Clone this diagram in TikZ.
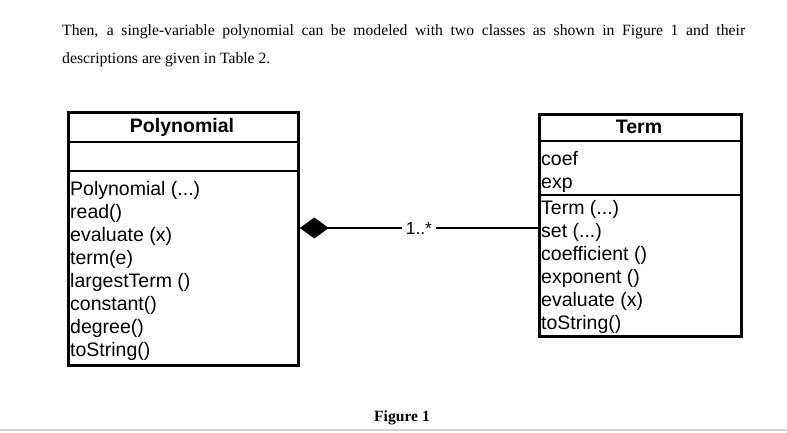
\documentclass[tikz,border=0pt]{standalone}
\usepackage{fontspec}
\setmainfont{Liberation Serif}
\newfontfamily\arial{Liberation Sans}
\usetikzlibrary{arrows.meta}
\begin{document}
\begin{tikzpicture}[x=1pt,y=-1pt,
  classbox/.style={draw=black, line width=2.8pt, inner sep=0pt, anchor=north west},
  sepline/.style={draw=black, line width=2.8pt},
  classtitle/.style={font=\arial\bfseries\fontsize{19.5}{22}\selectfont, anchor=base, inner sep=0pt},
  member/.style={font=\arial\fontsize{19.5}{22}\selectfont, anchor=base west, inner sep=0pt},
  para/.style={font=\fontsize{15.7}{28}\selectfont, anchor=base west, inner sep=0pt},
  caption/.style={font=\bfseries\fontsize{15.6}{18}\selectfont, anchor=base, inner sep=0pt},
  assoc/.style={draw=black, line width=1.4pt},
  multlabel/.style={font=\arial\fontsize{17.5}{20}\selectfont, fill=white, inner sep=4pt}
]
\useasboundingbox (0,0) rectangle (787,433);

% paragraph
\node[para] (line1) at (62,36) {\makebox[683pt][s]{Then, a single-variable polynomial can be modeled with two classes as shown in Figure 1 and their}};
\node[para] (line2) at (62,64) {descriptions are given in Table 2.};

% Polynomial class
\node[classbox, minimum width=230pt, minimum height=253pt] (poly) at (67,111) {};
\draw[sepline] (poly.north west |- 0,142) -- (poly.north east |- 0,142);
\draw[sepline] (poly.north west |- 0,171) -- (poly.north east |- 0,171);
\node[classtitle] (ptitle) at (182,132) {Polynomial};
\node[member] (p1) at (70,195) {Polynomial (...)};
\node[member] (p2) at (70,218) {read()};
\node[member] (p3) at (70,241) {evaluate (x)};
\node[member] (p4) at (70,264) {term(e)};
\node[member] (p5) at (70,287) {largestTerm ()};
\node[member] (p6) at (70,310) {constant()};
\node[member] (p7) at (70,333) {degree()};
\node[member] (p8) at (70,356) {toString()};

% Term class
\node[classbox, minimum width=202pt, minimum height=222pt] (term) at (538,113) {};
\draw[sepline] (term.north west |- 0,141) -- (term.north east |- 0,141);
\draw[sepline] (term.north west |- 0,195) -- (term.north east |- 0,195);
\node[classtitle] (ttitle) at (639,134) {Term};
\node[member] (a1) at (541,165) {coef};
\node[member] (a2) at (541,188) {exp};
\node[member] (t1) at (541,214) {Term (...)};
\node[member] (t2) at (541,237) {set (...)};
\node[member] (t3) at (541,260) {coefficient ()};
\node[member] (t4) at (541,283) {exponent ()};
\node[member] (t5) at (541,306) {evaluate (x)};
\node[member] (t6) at (541,329) {toString()};

% composition
\coordinate (cy) at (0,228);
\draw[assoc, {Diamond[length=29pt, width=21pt]}-] (poly.east |- cy) -- (term.west |- cy)
  node[multlabel, midway] (mult) {1..*};

% caption
\node[caption] (fig) at (402,421) {Figure 1};

% bottom rule
\coordinate (bl) at (0,430);
\coordinate (br) at (787,430);
\draw[draw=black!18, line width=1.6pt] (bl) -- (br);
\end{tikzpicture}
\end{document}
